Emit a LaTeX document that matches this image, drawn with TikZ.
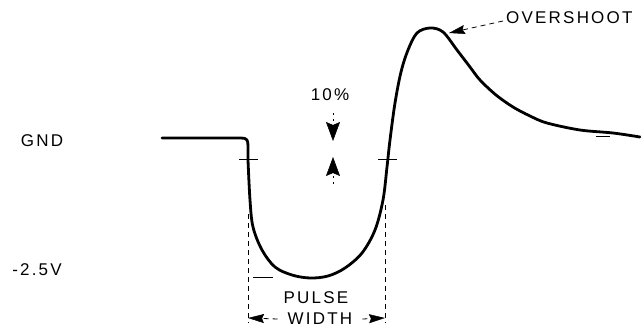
\documentclass[tikz,border=0pt]{standalone}
\usepackage{fontspec}
\newfontfamily\labfont[LetterSpace=13]{Liberation Sans}
\usetikzlibrary{arrows.meta}
\tikzset{
  lab/.style={inner sep=0pt, font=\labfont\fontsize{17}{19}\selectfont},
  wave/.style={line width=2.8pt, line cap=round, line join=round},
  thin/.style={line width=0.9pt},
  dimline/.style={line width=0.8pt, dash pattern=on 5pt off 4pt},
  dotline/.style={line width=0.8pt, dash pattern=on 2pt off 4pt},
  tip/.style={-{Stealth[length=16pt,width=9pt,inset=2pt,line width=0.5pt]}},
  bigtip/.style={-{Stealth[length=19pt,width=14pt,inset=3pt,line width=0.5pt]}},
}
\begin{document}
\begin{tikzpicture}[x=1pt,y=-1pt]
\useasboundingbox (0,0) rectangle (641,332);
% labels
\node[lab] (gnd) at (42,141) {GND};
\node[lab] (neg) at (37,270) {-2.5V};
\node[lab] (pct) at (330,95) {10\%};
\node[lab] (pulse) at (316,298) {PULSE};
\node[lab] (width) at (320,319) {WIDTH};
\node[lab, anchor=west] (over) at (506,18) {OVERSHOOT};
% waveform
\draw[wave] (162,138) -- (241,138) .. controls (247,138) and (248,140) .. (248,146)
  -- plot[smooth, tension=0.55] coordinates {(248,160) (250,200) (253,227) (262,250) (275,267) (292,275) (310,278) (328,276) (345,268) (362,253) (375,230) (383,200) (387,167) (390,140) (395,103) (401,72) (408,50) (417,33) (430,28) (443,32) (457,50) (470,67) (480,80) (496,95) (513,107) (530,116) (547,123) (580,130) (613,133) (640,137)};
% crossing ticks at 10% level
\coordinate (tl1) at (239,159); \coordinate (tl2) at (258,159);
\coordinate (tr1) at (378,159); \coordinate (tr2) at (397,159);
\draw[thin] (tl1) -- (tl2);
\draw[thin] (tr1) -- (tr2);
% -2.5V level mark and end mark
\coordinate (lv1) at (253,277); \coordinate (lv2) at (273,277);
\draw[thin] (lv1) -- (lv2);
\coordinate (em1) at (596,136); \coordinate (em2) at (610,136);
\draw[thin] (em1) -- (em2);
% pulse width extension lines
\coordinate (dl1) at (248,214); \coordinate (dl2) at (248,323);
\coordinate (dr1) at (385,205); \coordinate (dr2) at (385,323);
\draw[dimline] (dl1) -- (dl2);
\draw[dimline] (dr1) -- (dr2);
% pulse width arrows
\coordinate (wl) at (248,318); \coordinate (wr) at (385,318);
\draw[dimline, tip] (width.west) ++(-10,0) coordinate (wla) -- (wl);
\draw[dimline, tip] (width.east) ++(10,0) coordinate (wra) -- (wr);
% 10% arrows
\coordinate (a1s) at (333,113); \coordinate (a1e) at (333,141);
\coordinate (a2s) at (333,184); \coordinate (a2e) at (333,157);
\draw[dotline, bigtip] (a1s) -- (a1e);
\draw[dotline, bigtip] (a2s) -- (a2e);
% overshoot leader
\coordinate (ov) at (449,33);
\draw[dimline, tip] (over.west) ++(-3,3) -- (ov);
\end{tikzpicture}
\end{document}
